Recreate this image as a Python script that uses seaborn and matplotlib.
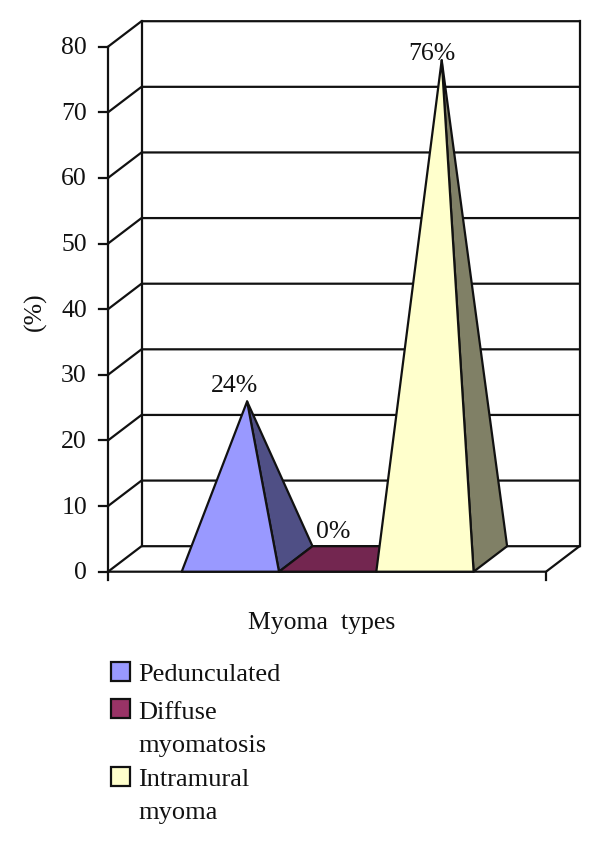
import matplotlib
matplotlib.use("Agg")
import matplotlib.pyplot as plt
import pandas as pd
import seaborn as sns

# values
myoma_types = ["Pedunculated", "Diffuse", "Intramural"]
legend_labels = ["Pedunculated", "Diffuse\nmyomatosis", "Intramural\nmyoma"]
percent = [24, 0, 76]
percent_labels = ["24%", "0%", "76%"]
y_ticks = [0, 10, 20, 30, 40, 50, 60, 70, 80]

front_colors = ["#9999FF", "#732650", "#FFFFCC"]
side_colors = ["#4F4F85", "#732650", "#808066"]
legend_colors = ["#9999FF", "#993366", "#FFFFCC"]

W, H = 600, 846
PX_X = 97.3      # pixels per bar slot
PX_Y = 6.5625    # pixels per percent
LEFT_PX = 181.7  # left edge of first pyramid
BASE_PX = 571.7  # y of value 0
DX = 33.5 / PX_X  # depth of the fake 3d box
DY = 25.5 / PX_Y
LW = 1.6
FS = 18.5

sns.set_theme(style="white")
plt.rcParams["font.family"] = ["Liberation Serif", "DejaVu Serif"]
plt.rcParams["text.color"] = "#111111"

df = pd.DataFrame({"type": myoma_types, "percent": percent})

fig = plt.figure(figsize=(W / 100, H / 100), dpi=100)
ax = fig.add_axes([0, 0, 1, 1])
sns.barplot(data=df, x="type", y="percent", width=1, ax=ax)

x0 = -0.5 - LEFT_PX / PX_X
ax.set_xlim(x0, x0 + W / PX_X)
ax.set_ylim(-(H - BASE_PX) / PX_Y, BASE_PX / PX_Y)
ax.axis("off")


def data_x(px):
    return x0 + px / PX_X


def data_y(py):
    return (BASE_PX - py) / PX_Y


def line(xs, ys):
    ax.plot(xs, ys, color="#111111", lw=LW, solid_capstyle="projecting", zorder=1)


box_left = data_x(108)
box_right = data_x(546)

# walls, floor and axis
for t in y_ticks:
    line([box_left, box_left + DX, box_right + DX], [t, t + DY, t + DY])
    line([data_x(99), box_left], [t, t])
    ax.text(data_x(87), t + 0.15, str(t), ha="right", va="center_baseline", fontsize=FS)
line([box_left, box_left], [y_ticks[0], y_ticks[-1]])
line([box_left + DX, box_left + DX], [DY, y_ticks[-1] + DY])
line([box_right + DX, box_right + DX], [DY, y_ticks[-1] + DY])
line([box_left, box_right, box_right + DX], [0, 0, DY])
line([box_left, box_left], [0, data_y(580)])
line([box_right, box_right], [0, data_y(580)])

# turn the seaborn bars into pyramids
for i, bar in enumerate(list(ax.patches)):
    bar.set_visible(False)
    xl = bar.get_x()
    xr = xl + bar.get_width()
    v = bar.get_height()
    style = dict(edgecolor="#111111", lw=LW, joinstyle="round", zorder=3)
    if v == 0:
        ax.fill([xl, xr, xr + DX, xl + DX], [0, 0, DY, DY], facecolor=side_colors[i], **style)
    else:
        apex_x = (xl + xr + DX) / 2
        apex_y = v + DY / 2
        ax.fill([xr, xr + DX, apex_x], [0, DY, apex_y], facecolor=side_colors[i], **style)
        ax.fill([xl, xr, apex_x], [0, 0, apex_y], facecolor=front_colors[i], **style)

# value labels
label_px = [(234, 386), (333, 532), (432, 54)]
for lab, (px, py) in zip(percent_labels, label_px):
    ax.text(data_x(px), data_y(py), lab, ha="center", va="center", fontsize=FS, zorder=5)

ax.text(data_x(35), data_y(312), "(%)", rotation=90, ha="center", va="center", fontsize=FS)
ax.text(data_x(321.5), data_y(623), "Myoma  types", ha="center", va="center", fontsize=FS)

# legend
swatch_tops = [662, 699, 766.5]
text_base = [681, 719, 786]
for lab, col, top, base in zip(legend_labels, legend_colors, swatch_tops, text_base):
    ax.fill(
        [data_x(111), data_x(130), data_x(130), data_x(111)],
        [data_y(top), data_y(top), data_y(top + 19), data_y(top + 19)],
        facecolor=col, edgecolor="#111111", lw=LW,
    )
    for k, part in enumerate(lab.split("\n")):
        ax.text(data_x(138), data_y(base + k * 33), part, ha="left", va="baseline", fontsize=19)

fig.savefig("out.png", dpi=100)
